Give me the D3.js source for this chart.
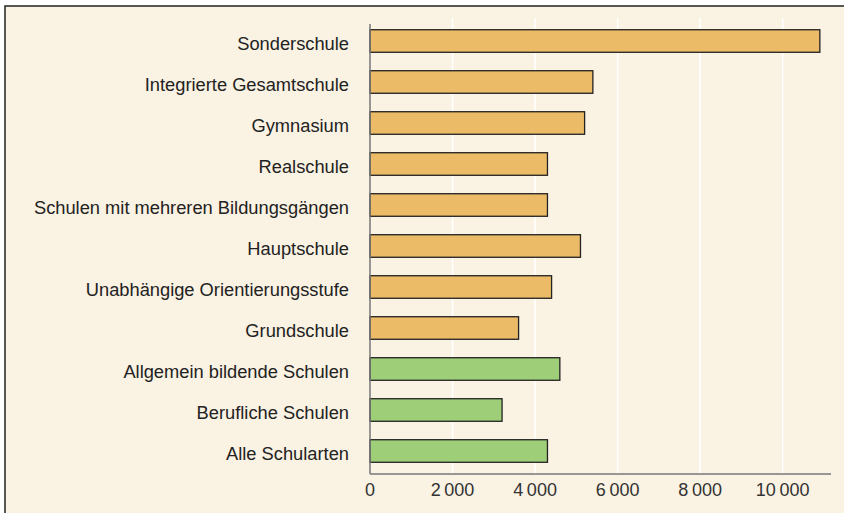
<!DOCTYPE html>
<html><head><meta charset="utf-8">
<script src="https://cdn.jsdelivr.net/npm/d3@7"></script>
<style>
html,body{margin:0;padding:0;background:#fff;}
svg{display:block;}
</style></head>
<body>
<svg id="chart" width="844" height="513"></svg>
<script>
const categories = ["Sonderschule","Integrierte Gesamtschule","Gymnasium","Realschule","Schulen mit mehreren Bildungsgängen","Hauptschule","Unabhängige Orientierungsstufe","Grundschule","Allgemein bildende Schulen","Berufliche Schulen","Alle Schularten"];
const values = [10900,5400,5200,4300,4300,5100,4400,3600,4600,3200,4300];
const groups = ["school","school","school","school","school","school","school","school","total","total","total"];
const tickValues = [0,2000,4000,6000,8000,10000];

const svg = d3.select("#chart");
const W = 844, H = 513;
const x0 = 370, xAxisEnd = 831, axisY = 474;
const colors = {school:"#ebbb67", total:"#9ecf78"};

svg.append("rect").attr("x",5).attr("y",6).attr("width",W).attr("height",H).attr("fill","#faf2e3")
  .attr("stroke","#222").attr("stroke-width",1.5);

const x = d3.scaleLinear().domain([0,10000]).range([x0, 782.7]);
const y = d3.scaleBand().domain(categories).range([20.5, 471.5]).paddingInner(0.45).paddingOuter(0.225);

// gridlines
svg.append("g").selectAll("line").data(tickValues.slice(1)).join("line")
  .attr("x1",d=>x(d)).attr("x2",d=>x(d)).attr("y1",18).attr("y2",axisY)
  .attr("stroke","#ffffff").attr("stroke-width",1.5);

// bars
svg.append("g").selectAll("rect").data(categories).join("rect")
  .attr("x",x(0)).attr("y",d=>y(d))
  .attr("width",(d,i)=>x(values[i])-x(0)).attr("height",y.bandwidth())
  .attr("fill",(d,i)=>colors[groups[i]]).attr("stroke","#222").attr("stroke-width",1.3);

// y axis line
svg.append("line").attr("x1",x0).attr("x2",x0).attr("y1",24).attr("y2",axisY)
  .attr("stroke","#777").attr("stroke-width",1.5);
// x axis line
svg.append("line").attr("x1",x0).attr("x2",xAxisEnd).attr("y1",axisY).attr("y2",axisY)
  .attr("stroke","#777").attr("stroke-width",1.5);

// category labels
svg.append("g").selectAll("text").data(categories).join("text")
  .attr("x",349).attr("y",d=>y(d)+y.bandwidth()/2 + 9)
  .attr("text-anchor","end").attr("font-family","Liberation Sans, Arial, sans-serif")
  .attr("font-size",18.3).attr("fill","#222").text(d=>d);

// tick labels
const fmt = d => d >= 1000 ? String(Math.floor(d/1000)) + "\u2009" + String(d%1000).padStart(3,"0") : String(d);
svg.append("g").selectAll("text").data(tickValues).join("text")
  .attr("x",d=>x(d)).attr("y",496).attr("text-anchor","middle")
  .attr("font-family","Liberation Sans, Arial, sans-serif")
  .attr("font-size",18).attr("fill","#333").text(fmt);
</script>
</body></html>
